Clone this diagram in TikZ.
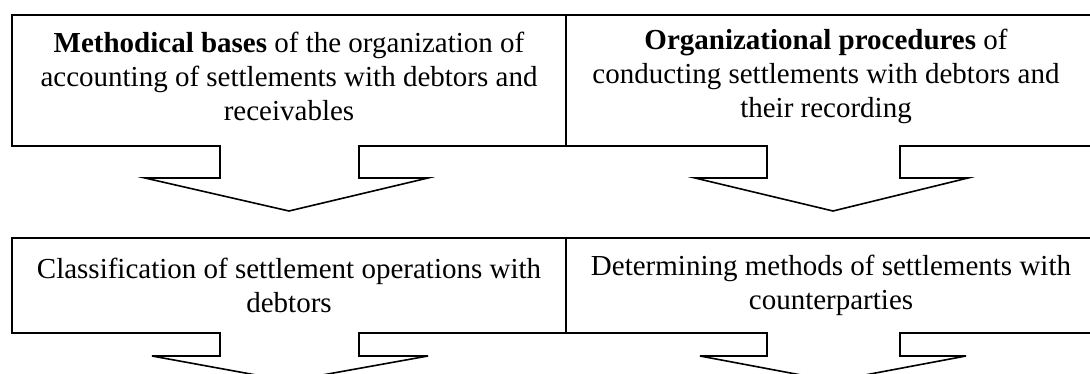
\documentclass[tikz,border=0pt]{standalone}
\usepackage{fontspec}
\setmainfont{Liberation Serif}
\begin{document}
\begin{tikzpicture}[x=1pt,y=-1pt,
  outline/.style={draw=black,line width=1.6pt,line join=miter,fill=white},
  label/.style={align=center,inner sep=0pt,font=\fontsize{29}{34}\selectfont}]
\useasboundingbox (0,0) rectangle (1090,374);
% row 1 left box with arrow
\draw[outline] (220,146) -- (12,146) -- (12,15) -- (566,15) -- (566,146) -- (359,146)
  -- (359,178) -- (428,178) -- (289,211) -- (145,178) -- (220,178) -- cycle;
% row 1 right box with arrow
\draw[outline] (767,146) -- (566,146) -- (566,15) -- (1100,15) -- (1100,146) -- (900,146)
  -- (900,178) -- (968,178) -- (833,211) -- (695,178) -- (767,178) -- cycle;
% row 2 left box with arrow
\draw[outline] (220,333) -- (12,333) -- (12,238) -- (566,238) -- (566,333) -- (359,333)
  -- (359,356) -- (428,356) -- (289,381) -- (152,356) -- (220,356) -- cycle;
% row 2 right box with arrow
\draw[outline] (767,333) -- (566,333) -- (566,238) -- (1100,238) -- (1100,333) -- (900,333)
  -- (900,356) -- (966,356) -- (833,381) -- (700,356) -- (767,356) -- cycle;
% texts
\node[label] (t1) at (289,76) {\textbf{Methodical bases} of the organization of\\accounting of settlements with debtors and\\receivables};
\node[label] (t2) at (826,76) {\textbf{Organizational procedures} of\\conducting settlements with debtors and\\their recording};
\node[label] (t3) at (289,285) {Classification of settlement operations with\\debtors};
\node[label] (t4) at (831,285) {Determining methods of settlements with\\counterparties};
\end{tikzpicture}
\end{document}
